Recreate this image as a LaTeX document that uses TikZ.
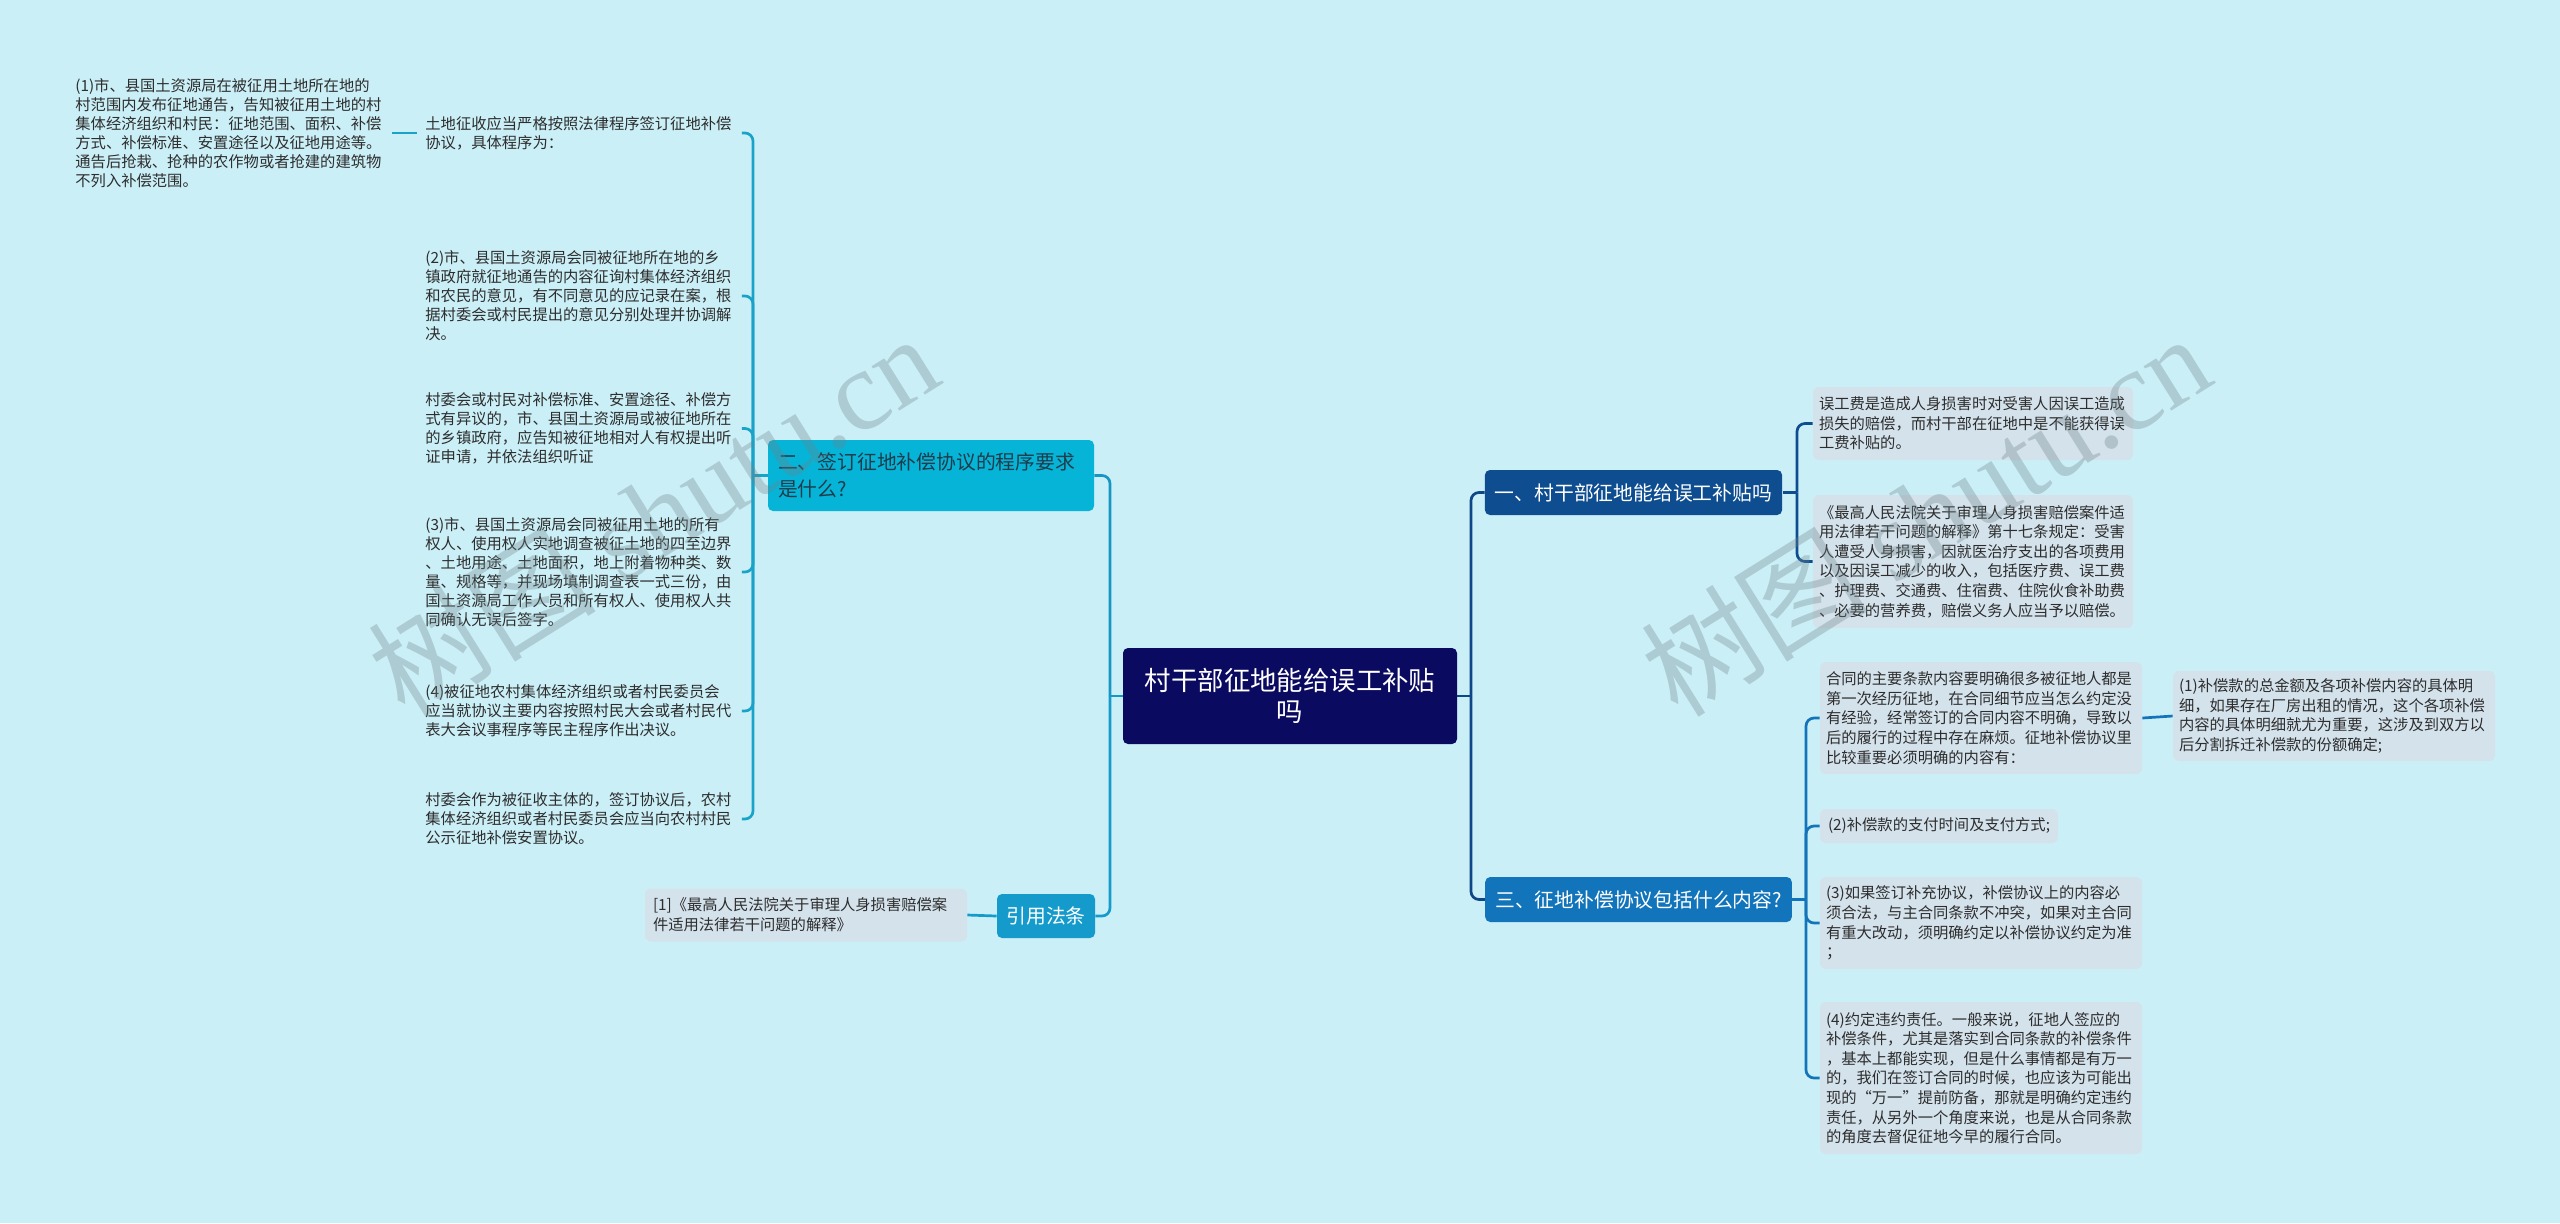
\documentclass[tikz,border=0pt]{standalone}
\usepackage{fontspec}
\setmainfont{Noto Sans CJK SC}
\newfontfamily\wmserif{Liberation Serif}
\definecolor{bgc}{RGB}{203,239,247}
\definecolor{leafc}{RGB}{212,226,236}
\definecolor{leaftext}{RGB}{45,45,45}
\definecolor{rootc}{RGB}{10,10,96}
\definecolor{onec}{RGB}{14,77,144}
\definecolor{threec}{RGB}{18,116,186}
\definecolor{twoc}{RGB}{6,180,216}
\definecolor{twotext}{RGB}{30,60,75}
\definecolor{yyc}{RGB}{20,155,203}
\definecolor{brtwo}{RGB}{25,163,200}
\definecolor{trunkl}{RGB}{24,150,195}
\definecolor{trunkr}{RGB}{14,70,135}
\definecolor{wmc}{RGB}{110,130,135}
\begin{document}
\begin{tikzpicture}[x=0.5pt,y=-0.5pt,
  rootbox/.style={fill=rootc,text=white,rounded corners=2.5pt,minimum width=167pt,minimum height=48pt,align=center,inner sep=0pt,font=\fontsize{13.2pt}{15.5pt}\selectfont},
  lvone/.style={rounded corners=2.5pt,inner xsep=5pt,inner ysep=0pt,font=\fontsize{9.9pt}{13.5pt}\selectfont},
  leafbox/.style={fill=leafc,rounded corners=3pt,text=leaftext,align=left,inner xsep=3pt,inner ysep=0pt,text width=154pt,font=\fontsize{7.65pt}{9.8pt}\selectfont},
  leaftxt/.style={text=leaftext,align=left,text width=154pt,inner xsep=4pt,inner ysep=2pt,anchor=west,font=\fontsize{7.65pt}{9.5pt}\selectfont},
  conn/.style={line width=1.35pt,rounded corners=4pt},
  wm/.style={text=wmc,opacity=0.33,font=\fontsize{57pt}{60pt}\selectfont,inner sep=0pt}
]
\fill[bgc] (0,0) rectangle (2560,1223);
\useasboundingbox (0,0) rectangle (2560,1223);

% root
\node[rootbox] (root) at (1290,696) {村干部征地能给误工补贴\\吗};

% level one
\node[lvone,fill=twoc,text=twotext,text width=153pt,align=left,minimum height=35.5pt] (two) at (931,475.5) {二、签订征地补偿协议的程序要求\\是什么?};
\node[lvone,fill=yyc,text=white,minimum width=49pt,minimum height=22pt,inner xsep=0pt] (yy) at (1046,916) {引用法条};
\node[lvone,fill=onec,text=white,minimum width=147.5pt,minimum height=22.5pt] (one) at (1633.5,492.5) {一、村干部征地能给误工补贴吗};
\node[lvone,fill=threec,text=white,minimum width=152.5pt,minimum height=22.5pt] (three) at (1638.5,899.5) {三、征地补偿协议包括什么内容?};

% left leaves
\node[leaftxt] (l1) at (417,133) {土地征收应当严格按照法律程序签订征地补偿\\协议，具体程序为：};
\node[leaftxt] (l1c) at (67,133) {(1)市、县国土资源局在被征用土地所在地的\\村范围内发布征地通告，告知被征用土地的村\\集体经济组织和村民：征地范围、面积、补偿\\方式、补偿标准、安置途径以及征地用途等。\\通告后抢栽、抢种的农作物或者抢建的建筑物\\不列入补偿范围。};
\node[leaftxt] (l2) at (417,296) {(2)市、县国土资源局会同被征地所在地的乡\\镇政府就征地通告的内容征询村集体经济组织\\和农民的意见，有不同意见的应记录在案，根\\据村委会或村民提出的意见分别处理并协调解\\决。};
\node[leaftxt] (l3) at (417,428.5) {村委会或村民对补偿标准、安置途径、补偿方\\式有异议的，市、县国土资源局或被征地所在\\的乡镇政府，应告知被征地相对人有权提出听\\证申请，并依法组织听证};
\node[leaftxt] (l4) at (417,572) {(3)市、县国土资源局会同被征用土地的所有\\权人、使用权人实地调查被征土地的四至边界\\、土地用途、土地面积，地上附着物种类、数\\量、规格等，并现场填制调查表一式三份，由\\国土资源局工作人员和所有权人、使用权人共\\同确认无误后签字。};
\node[leaftxt] (l5) at (417,711) {(4)被征地农村集体经济组织或者村民委员会\\应当就协议主要内容按照村民大会或者村民代\\表大会议事程序等民主程序作出决议。};
\node[leaftxt] (l6) at (417,819) {村委会作为被征收主体的，签订协议后，农村\\集体经济组织或者村民委员会应当向农村村民\\公示征地补偿安置协议。};

% citation
\node[leafbox,text width=153pt,inner xsep=4pt,minimum height=26.5pt,font=\fontsize{7.65pt}{10pt}\selectfont] (cite) at (806,915) {[1]《最高人民法院关于审理人身损害赔偿案\\件适用法律若干问题的解释》};

% right leaves
\node[leafbox,minimum width=160pt,minimum height=36.5pt] (a) at (1973,423.5) {误工费是造成人身损害时对受害人因误工造成\\损失的赔偿，而村干部在征地中是不能获得误\\工费补贴的。};
\node[leafbox,minimum width=160pt,minimum height=66.5pt] (b) at (1973,561.5) {《最高人民法院关于审理人身损害赔偿案件适\\用法律若干问题的解释》第十七条规定：受害\\人遭受人身损害，因就医治疗支出的各项费用\\以及因误工减少的收入，包括医疗费、误工费\\、护理费、交通费、住宿费、住院伙食补助费\\、必要的营养费，赔偿义务人应当予以赔偿。};
\node[leafbox,text width=155pt,minimum width=161pt,minimum height=56pt] (c) at (1981,718) {合同的主要条款内容要明确很多被征地人都是\\第一次经历征地，在合同细节应当怎么约定没\\有经验，经常签订的合同内容不明确，导致以\\后的履行的过程中存在麻烦。征地补偿协议里\\比较重要必须明确的内容有：};
\node[leafbox,text width=111pt,minimum width=119pt,minimum height=17pt] (d) at (1939,826) {(2)补偿款的支付时间及支付方式;};
\node[leafbox,text width=155pt,minimum width=161pt,minimum height=46pt] (e) at (1981,923) {(3)如果签订补充协议，补偿协议上的内容必\\须合法，与主合同条款不冲突，如果对主合同\\有重大改动，须明确约定以补偿协议约定为准\\；};
\node[leafbox,text width=155pt,minimum width=161pt,minimum height=76pt] (f) at (1981,1078) {(4)约定违约责任。一般来说，征地人签应的\\补偿条件，尤其是落实到合同条款的补偿条件\\，基本上都能实现，但是什么事情都是有万一\\的，我们在签订合同的时候，也应该为可能出\\现的“万一”提前防备，那就是明确约定违约\\责任，从另外一个角度来说，也是从合同条款\\的角度去督促征地今早的履行合同。};
\node[leafbox,text width=155pt,minimum width=161pt,minimum height=45pt] (r1) at (2334,716) {(1)补偿款的总金额及各项补偿内容的具体明\\细，如果存在厂房出租的情况，这个各项补偿\\内容的具体明细就尤为重要，这涉及到双方以\\后分割拆迁补偿款的份额确定;};

% junctions
\coordinate (jl) at (1110,696);
\coordinate (jr) at (1471,696);
\coordinate (j2) at (753,475.5);
\coordinate (j1) at (1797,492.5);
\coordinate (j3) at (1806,899.5);

% connectors left
\draw[conn,trunkl] (root.west) -- (jl);
\draw[conn,trunkl] (jl) |- (two.east);
\draw[conn,yyc] (jl) |- (yy.east);
\draw[conn,yyc] (yy.west) -- (cite.east);
\draw[conn,brtwo] (two.west) -- (j2);
\foreach \n in {l1,l2,l3,l4,l5,l6} \draw[conn,brtwo] (j2) |- (\n.east);
\draw[conn,brtwo] (l1.west) -- (l1c.east);

% connectors right
\draw[conn,trunkr] (root.east) -- (jr);
\draw[conn,trunkr] (jr) |- (one.west);
\draw[conn,trunkr] (jr) |- (three.west);
\draw[conn,onec] (one.east) -- (j1);
\foreach \n in {a,b} \draw[conn,onec] (j1) |- (\n.west);
\draw[conn,threec] (three.east) -- (j3);
\foreach \n in {c,d,e,f} \draw[conn,threec] (j3) |- (\n.west);
\draw[conn,threec] (c.east) -- (r1.west);

% watermarks
\node[wm,rotate=32] (wm1) at (653,514) {树图 {\wmserif shutu.cn}};
\node[wm,rotate=32] (wm2) at (1925,514) {树图 {\wmserif shutu.cn}};
\end{tikzpicture}
\end{document}
